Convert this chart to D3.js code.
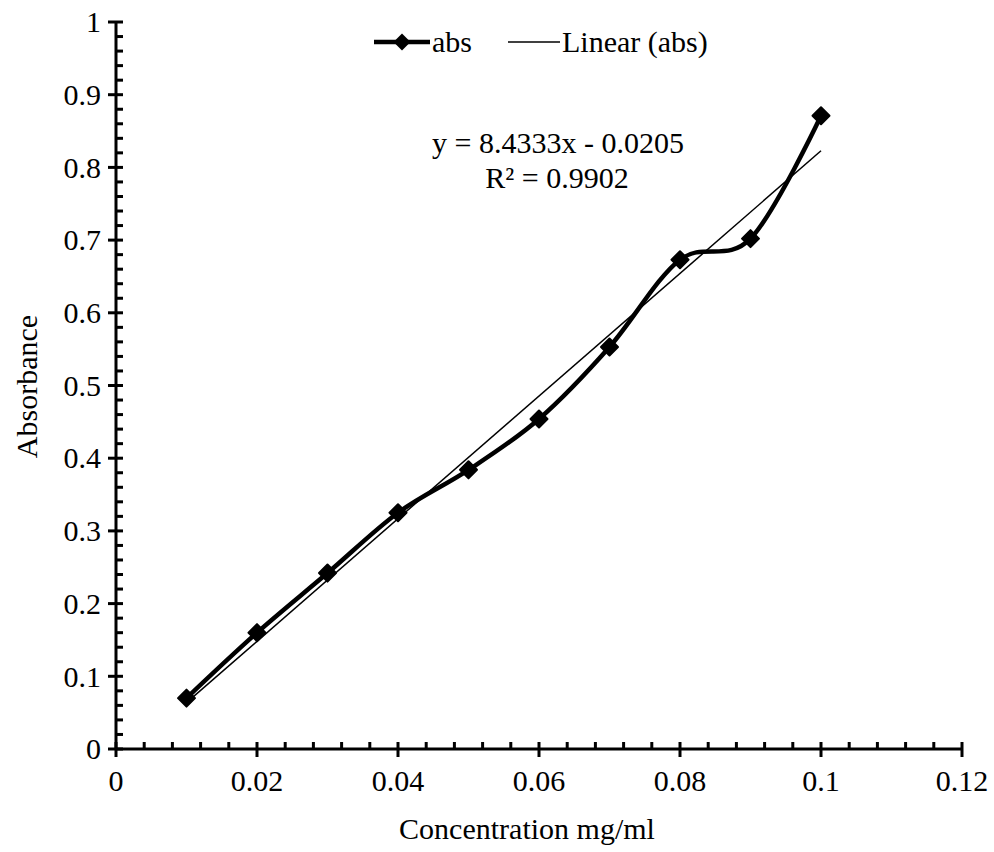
<!DOCTYPE html>
<html>
<head>
<meta charset="utf-8">
<script src="https://cdn.jsdelivr.net/npm/d3@7/dist/d3.min.js"></script>
<style>
  body { margin: 0; background: #fff; }
  svg { display: block; font-family: "Liberation Serif", "Times New Roman", serif; }
</style>
</head>
<body>
<svg id="chart" width="994" height="852"></svg>
<script>
// Calibration data: concentration (mg/ml) vs absorbance
const concentration = [0.01, 0.02, 0.03, 0.04, 0.05, 0.06, 0.07, 0.08, 0.09, 0.10];
const absorbance    = [0.070, 0.160, 0.242, 0.325, 0.384, 0.454, 0.553, 0.673, 0.702, 0.871];
const trendSlope = 8.4333;
const trendIntercept = -0.0205;
const rSquared = 0.9902;
const xTicks = [0, 0.02, 0.04, 0.06, 0.08, 0.1, 0.12];
const yTicks = [0, 0.1, 0.2, 0.3, 0.4, 0.5, 0.6, 0.7, 0.8, 0.9, 1];

const svg = d3.select("#chart");
const plotLeft = 116, plotRight = 962, plotTop = 22, plotBottom = 749;

const x = d3.scaleLinear().domain([0, 0.12]).range([plotLeft, plotRight]);
const y = d3.scaleLinear().domain([0, 1]).range([plotBottom, plotTop]);

const fontSize = 30;

// minor ticks
const xMinor = d3.range(0, 0.12 + 1e-9, 0.004).filter(v => Math.abs(v / 0.02 - Math.round(v / 0.02)) > 1e-6);
const yMinor = d3.range(0, 1 + 1e-9, 0.02).filter(v => Math.abs(v / 0.1 - Math.round(v / 0.1)) > 1e-6);

const axes = svg.append("g").attr("stroke", "#000").attr("stroke-width", 3);
axes.selectAll(".xminor").data(xMinor).join("line")
  .attr("x1", d => x(d)).attr("x2", d => x(d)).attr("y1", plotBottom - 7).attr("y2", plotBottom);
axes.selectAll(".yminor").data(yMinor).join("line")
  .attr("x1", plotLeft).attr("x2", plotLeft + 7).attr("y1", d => y(d)).attr("y2", d => y(d));
axes.selectAll(".xmajor").data(xTicks).join("line")
  .attr("x1", d => x(d)).attr("x2", d => x(d)).attr("y1", plotBottom - 7).attr("y2", plotBottom + 8);
axes.selectAll(".ymajor").data(yTicks).join("line")
  .attr("x1", plotLeft - 8).attr("x2", plotLeft + 7).attr("y1", d => y(d)).attr("y2", d => y(d));
axes.append("line").attr("x1", plotLeft).attr("x2", plotRight).attr("y1", plotBottom).attr("y2", plotBottom);
axes.append("line").attr("x1", plotLeft).attr("x2", plotLeft).attr("y1", plotTop).attr("y2", plotBottom);

// tick labels
const fmt = d => d === 0 ? "0" : String(+d.toFixed(2));
svg.append("g").selectAll("text").data(xTicks).join("text")
  .attr("x", d => x(d)).attr("y", plotBottom + 42)
  .attr("text-anchor", "middle").attr("font-size", fontSize).text(fmt);
svg.append("g").selectAll("text").data(yTicks).join("text")
  .attr("x", plotLeft - 15).attr("y", d => y(d)).attr("dy", "0.34em")
  .attr("text-anchor", "end").attr("font-size", fontSize).text(fmt);

// axis titles
svg.append("text").attr("x", (plotLeft + plotRight) / 2 - 12).attr("y", 839)
  .attr("text-anchor", "middle").attr("font-size", fontSize).text("Concentration mg/ml");
svg.append("text").attr("transform", `translate(37,${(plotTop + plotBottom) / 2 + 1}) rotate(-90)`)
  .attr("text-anchor", "middle").attr("font-size", fontSize).text("Absorbance");

// linear trendline
const x0 = concentration[0], x1 = concentration[concentration.length - 1];
svg.append("line")
  .attr("x1", x(x0)).attr("y1", y(trendSlope * x0 + trendIntercept))
  .attr("x2", x(x1)).attr("y2", y(trendSlope * x1 + trendIntercept))
  .attr("stroke", "#000").attr("stroke-width", 1.5);

// smoothed data line
const pts = concentration.map((c, i) => [c, absorbance[i]]);
svg.append("path").datum(pts)
  .attr("fill", "none").attr("stroke", "#000").attr("stroke-width", 4.5)
  .attr("stroke-linejoin", "round")
  .attr("d", d3.line().x(d => x(d[0])).y(d => y(d[1])).curve(d3.curveCardinal.tension(0)));

// diamond markers
const diamond = "M0,-8.5L8.5,0L0,8.5L-8.5,0Z";
svg.append("g").selectAll("path").data(pts).join("path")
  .attr("transform", d => `translate(${x(d[0])},${y(d[1])})`)
  .attr("d", diamond).attr("fill", "#000").attr("stroke", "#000")
  .attr("stroke-width", 2).attr("stroke-linejoin", "round");

// legend
const lg = svg.append("g");
lg.append("line").attr("x1", 374).attr("x2", 430).attr("y1", 42).attr("y2", 42)
  .attr("stroke", "#000").attr("stroke-width", 4.5);
lg.append("path").attr("transform", "translate(402,42)").attr("d", diamond).attr("fill", "#000");
lg.append("text").attr("x", 432).attr("y", 42).attr("dy", "0.34em").attr("font-size", fontSize).text("abs");
lg.append("line").attr("x1", 508).attr("x2", 560).attr("y1", 42).attr("y2", 42)
  .attr("stroke", "#000").attr("stroke-width", 1.5);
lg.append("text").attr("x", 562).attr("y", 42).attr("dy", "0.34em").attr("font-size", fontSize).text("Linear (abs)");

// equation label
const eq = svg.append("g").attr("font-size", fontSize).attr("text-anchor", "middle");
eq.append("text").attr("x", 558).attr("y", 143).attr("dy", "0.34em")
  .text(`y = ${trendSlope}x - ${Math.abs(trendIntercept)}`);
eq.append("text").attr("x", 557).attr("y", 178).attr("dy", "0.34em")
  .text(`R² = ${rSquared}`);
</script>
</body>
</html>
